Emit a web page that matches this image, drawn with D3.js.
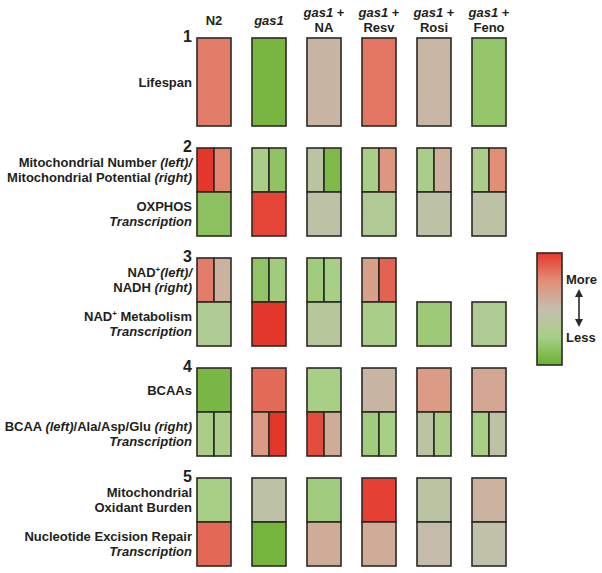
<!DOCTYPE html>
<html>
<head>
<meta charset="utf-8">
<script src="https://cdn.jsdelivr.net/npm/d3@7"></script>
<style>
  body { margin: 0; background: #fff; }
  text { font-family: "Liberation Sans", Arial, sans-serif; font-weight: bold; fill: #231f20; }
</style>
</head>
<body>
<div id="chart"></div>
<script>
// conditions (columns) and header lines
const conditions = ["N2", "gas1", "gas1 + NA", "gas1 + Resv", "gas1 + Rosi", "gas1 + Feno"];
const headerLines = [["N2"], ["*gas1*"], ["*gas1* +", "NA"], ["*gas1* +", "Resv"], ["*gas1* +", "Rosi"], ["*gas1* +", "Feno"]];
const groups = [1, 2, 3, 4, 5];

// relative change, -1 = less (green) ... +1 = more (red); null = not measured
const lifespan      = [0.6, -0.9, 0.1, 0.64, 0.08, -0.65];
const mitoNumber    = [1.0, -0.45, -0.15, -0.47, -0.45, -0.45];
const mitoPotential = [0.55, -0.7, -0.85, 0.42, 0.15, 0.5];
const oxphosTx      = [-0.72, 0.92, -0.1, -0.32, -0.1, -0.1];
const nadPlus       = [0.6, -0.68, -0.55, 0.32, null, null];
const nadh          = [0.15, -0.55, -0.5, 0.75, null, null];
const nadMetabTx    = [-0.35, 1.0, -0.25, -0.45, -0.58, -0.35];
const bcaas         = [-0.88, 0.7, -0.5, 0.1, 0.38, 0.25];
const bcaaTx        = [-0.45, 0.4, 0.88, -0.55, -0.15, -0.5];
const alaAspGluTx   = [-0.45, 1.0, 0.2, -0.5, -0.45, -0.12];
const oxidantBurden = [-0.5, -0.1, -0.55, 0.95, -0.15, 0.12];
const nerTx         = [0.72, -0.92, 0.2, 0.2, 0.04, -0.06];

// rows: group index, slot inside group, span, left/right values, label lines
const rows = [
  { g: 0, slot: 0, span: 2, left: lifespan, label: ["Lifespan"] },
  { g: 1, slot: 0, span: 1, left: mitoNumber, right: mitoPotential, label: ["Mitochondrial Number *(left)/*", "Mitochondrial Potential *(right)*"] },
  { g: 1, slot: 1, span: 1, left: oxphosTx, label: ["OXPHOS", "*Transcription*"] },
  { g: 2, slot: 0, span: 1, left: nadPlus, right: nadh, label: ["NAD^+*(left)/*", "NADH *(right)*"] },
  { g: 2, slot: 1, span: 1, left: nadMetabTx, label: ["NAD^+ Metabolism", "*Transcription*"] },
  { g: 3, slot: 0, span: 1, left: bcaas, label: ["BCAAs"] },
  { g: 3, slot: 1, span: 1, left: bcaaTx, right: alaAspGluTx, label: ["BCAA *(left)*/Ala/Asp/Glu *(right)*", "*Transcription*"] },
  { g: 4, slot: 0, span: 1, left: oxidantBurden, label: ["Mitochondrial", "Oxidant Burden"] },
  { g: 4, slot: 1, span: 1, left: nerTx, label: ["Nucleotide Excision Repair", "*Transcription*"] }
];

const width = 602, height = 573;
const svg = d3.select("#chart").append("svg")
  .attr("width", width)
  .attr("height", height);

const xScale = d3.scaleBand()
  .domain(conditions)
  .range([197, 506])
  .paddingInner(21 / 55);

const yScale = d3.scaleBand()
  .domain(groups)
  .range([38, 566])
  .paddingInner(0.2);

const cellH = yScale.bandwidth() / 2;

const color = d3.scaleLinear()
  .domain([-1, -0.5, 0, 0.5, 1])
  .range(["#6cb030", "#a7cf86", "#c3bfae", "#e28f78", "#e4372b"]);

const stroke = "#2b2a25";

// write a line of text with *italic* and ^+ superscript segments
function writeLine(sel, str) {
  const parts = str.split(/(\*[^*]+\*|\^\+)/).filter(s => s.length);
  let pendingDy = 0;
  parts.forEach(p => {
    let ts;
    if (p === "^+") {
      ts = sel.append("tspan").attr("font-size", 8).attr("dy", -5).text("+");
      pendingDy = 5;
      return;
    } else if (p.startsWith("*")) {
      ts = sel.append("tspan").attr("font-style", "italic").text(p.slice(1, -1));
    } else {
      ts = sel.append("tspan").text(p);
    }
    if (pendingDy) { ts.attr("dy", pendingDy); pendingDy = 0; }
  });
}

// column headers
conditions.forEach((c, i) => {
  const lines = headerLines[i];
  const cx = xScale(c) + xScale.bandwidth() / 2;
  const base = lines.length === 1 ? 25 : 16.5;
  lines.forEach((l, j) => {
    const t = svg.append("text")
      .attr("x", cx)
      .attr("y", base + j * 15)
      .attr("text-anchor", "middle")
      .attr("font-size", 13);
    writeLine(t, l);
  });
});

// group numbers
groups.forEach(g => {
  svg.append("text")
    .attr("x", 192)
    .attr("y", yScale(g) + 4)
    .attr("text-anchor", "end")
    .attr("font-size", 16)
    .text(g);
});

// row labels
rows.forEach(r => {
  const top = yScale(groups[r.g]) + r.slot * cellH;
  const cy = top + r.span * cellH / 2;
  const n = r.label.length;
  r.label.forEach((l, j) => {
    const t = svg.append("text")
      .attr("x", 192)
      .attr("y", cy + (j - (n - 1) / 2) * 15 + 4.7)
      .attr("text-anchor", "end")
      .attr("font-size", 13);
    writeLine(t, l);
  });
});

// cells
rows.forEach(r => {
  const top = yScale(groups[r.g]) + r.slot * cellH;
  const h = r.span * cellH;
  conditions.forEach((c, i) => {
    if (r.left[i] === null) return;
    const x0 = xScale(c);
    const w = xScale.bandwidth();
    const halves = r.right
      ? [{ x: x0, w: w / 2, v: r.left[i] }, { x: x0 + w / 2, w: w / 2, v: r.right[i] }]
      : [{ x: x0, w: w, v: r.left[i] }];
    svg.append("g").selectAll("rect")
      .data(halves)
      .join("rect")
      .attr("x", d => d.x)
      .attr("y", top)
      .attr("width", d => d.w)
      .attr("height", h)
      .attr("fill", d => color(d.v))
      .attr("stroke", stroke)
      .attr("stroke-width", 1.6);
  });
});

// legend
const defs = svg.append("defs");
const grad = defs.append("linearGradient")
  .attr("id", "legendGrad")
  .attr("x1", 0).attr("y1", 0).attr("x2", 0).attr("y2", 1);
d3.range(1, -1.01, -0.25).forEach(v => {
  grad.append("stop")
    .attr("offset", (1 - v) / 2)
    .attr("stop-color", color(v));
});

svg.append("rect")
  .attr("x", 537)
  .attr("y", 253)
  .attr("width", 25)
  .attr("height", 112)
  .attr("fill", "url(#legendGrad)")
  .attr("stroke", stroke)
  .attr("stroke-width", 1.6);

svg.append("text").attr("x", 566).attr("y", 284).attr("font-size", 13).text("More");
svg.append("text").attr("x", 566).attr("y", 342).attr("font-size", 13).text("Less");

const arrow = defs.append("marker")
  .attr("id", "head")
  .attr("viewBox", "0 0 10 10")
  .attr("refX", 5).attr("refY", 5)
  .attr("markerWidth", 5).attr("markerHeight", 5)
  .attr("orient", "auto-start-reverse");
arrow.append("path").attr("d", "M0,0L10,5L0,10z").attr("fill", stroke);

svg.append("line")
  .attr("x1", 579).attr("y1", 293)
  .attr("x2", 579).attr("y2", 323)
  .attr("stroke", stroke)
  .attr("stroke-width", 1.6)
  .attr("marker-start", "url(#head)")
  .attr("marker-end", "url(#head)");
</script>
</body>
</html>
